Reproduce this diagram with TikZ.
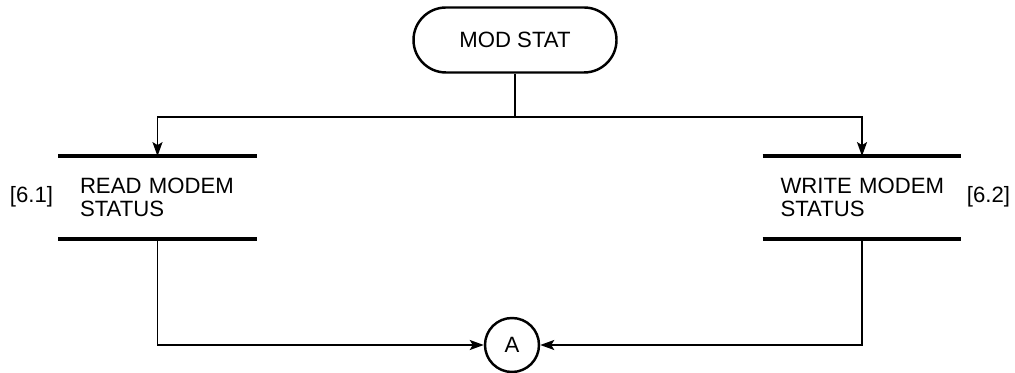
\documentclass[tikz,border=0pt]{standalone}
\usepackage{fontspec}
\setmainfont{Liberation Sans}
\usetikzlibrary{arrows.meta,positioning,calc}
\tikzset{>={Stealth[length=2.8mm,width=2mm,inset=0.6mm]},every node/.style={font=\fontsize{12.6}{13.2}\selectfont},
 term/.style={draw,line width=1.4pt,rounded corners=0.65cm,minimum width=4.06cm,minimum height=1.3cm},
 procbox/.style={minimum width=3.94cm,minimum height=1.62cm,text width=3.1cm,inner xsep=0.42cm,align=left},
 boxline/.style={line width=1.9pt},
 conn/.style={circle,draw,line width=1.4pt,minimum size=1.08cm,inner sep=0pt},
 every edge/.style={draw,->}}
\begin{document}
\begin{tikzpicture}[line width=1pt]
\useasboundingbox (0,0) rectangle (20.3,7.46);
\node[term] (ms) at (10.3,6.66) {MOD STAT};
\node[procbox] (rd) at (3.15,3.51) {\mbox{READ MODEM}\\STATUS};
\node[procbox,inner xsep=0.34cm,text width=3.26cm] (wr) at (17.24,3.51) {\mbox{WRITE MODEM}\\STATUS};
\node (rdref) at (0.63,3.52) {[6.1]};
\node (wrref) at (19.77,3.52) {[6.2]};
\node[conn] (a) at (10.24,0.56) {A};
\foreach \b in {rd,wr}\draw[boxline] (\b.north west)--(\b.north east) (\b.south west)--(\b.south east);
\coordinate (fork) at ($(ms.south)+(0,-0.87)$);
\draw (ms.south)--(fork);
\draw[->] (fork)-|(rd.north);
\draw[->] (fork)-|(wr.north);
\draw[->] (rd.south)|-(a.west);
\draw[->] (wr.south)|-(a.east);
\end{tikzpicture}
\end{document}
